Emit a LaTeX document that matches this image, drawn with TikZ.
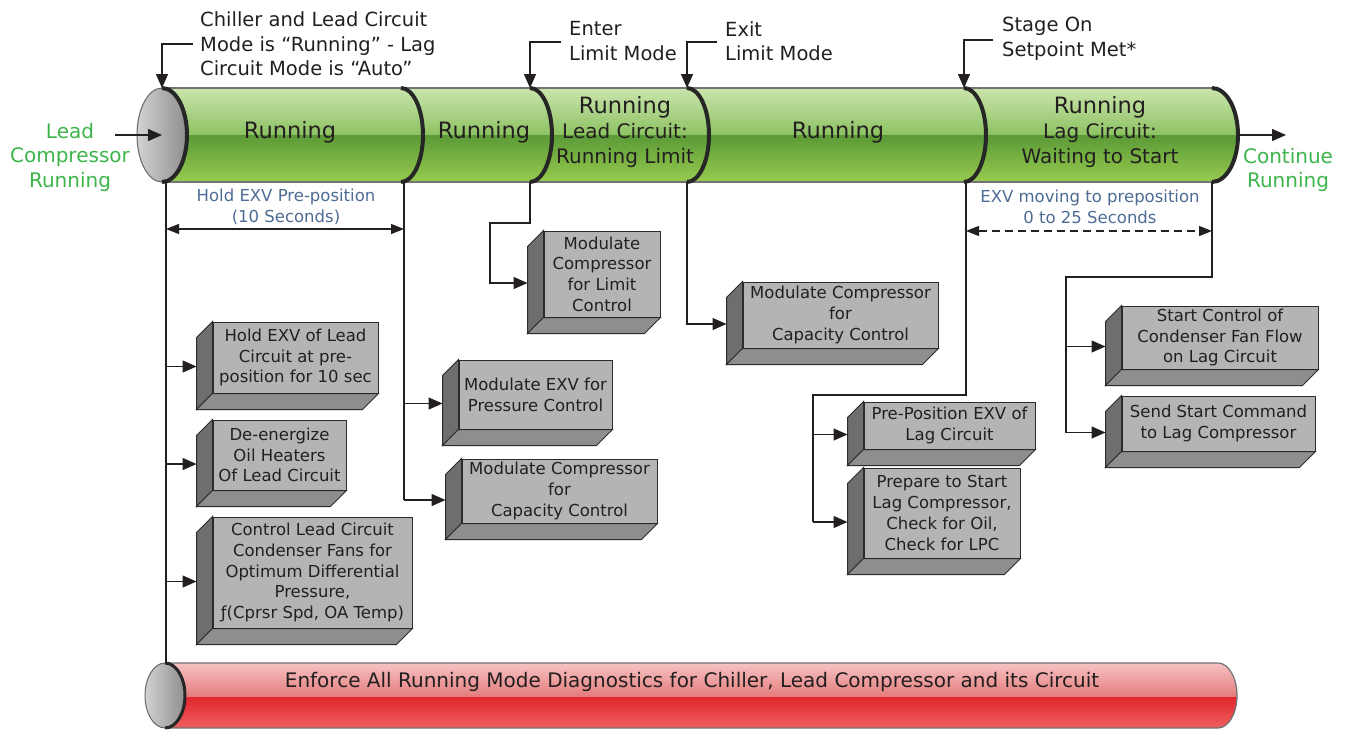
\documentclass[tikz,border=0pt]{standalone}
\usepackage{fontspec}
\setmainfont{DejaVu Sans}
\usetikzlibrary{arrows.meta,calc,positioning}
\definecolor{txtdark}{HTML}{231F20}
\definecolor{dimblue}{HTML}{4D6B93}
\definecolor{leadgreen}{HTML}{3DB54A}
\definecolor{grnA}{HTML}{CDE6B0}
\definecolor{grnB}{HTML}{8DC262}
\definecolor{grnC}{HTML}{5B9A38}
\definecolor{grnD}{HTML}{9ACD4F}
\definecolor{redA}{HTML}{F8C6C6}
\definecolor{redB}{HTML}{E47B7B}
\definecolor{redC}{HTML}{E2262D}
\definecolor{redD}{HTML}{EF6363}
\definecolor{capA}{HTML}{D2D2D2}
\definecolor{capB}{HTML}{8E8E8E}
\definecolor{boxfront}{HTML}{B4B4B4}
\definecolor{boxleft}{HTML}{6E6E6E}
\definecolor{boxbottom}{HTML}{8E8E8E}
\definecolor{boxline}{HTML}{2B2B2B}
\newcommand{\fs}[2]{\fontsize{#1}{#2}\selectfont}
\tikzset{
  link/.style={draw=txtdark,line width=1.4pt},
  arr/.style={link,-{Triangle[length=14pt,width=12pt]}},
  dimarr/.style={link,{Triangle[length=13pt,width=10pt]}-{Triangle[length=13pt,width=10pt]}},
  divider/.style={draw=black!85,line width=4pt},
  cylline/.style={draw=black!55,line width=1.2pt},
  boxnode/.style={draw=boxline,line width=1pt,fill=boxfront,align=center,inner sep=1pt,text=txtdark,font=\fs{16.5}{20.7}},
  toplabel/.style={anchor=west,inner sep=0pt,align=left,text=txtdark,font=\fs{19.5}{24.5}},
  seclabel/.style={align=center,inner sep=0pt,text=txtdark,font=\fs{22.5}{25}},
  sublabel/.style={align=center,inner sep=0pt,text=txtdark,font=\fs{20}{25}},
  sidelabel/.style={align=center,inner sep=0pt,text=leadgreen,font=\fs{20}{24.5}},
  dimlabel/.style={align=center,inner sep=0pt,text=dimblue,font=\fs{16.5}{21}}
}
\begin{document}
\begin{tikzpicture}[x=1pt,y=-1pt]
\useasboundingbox (0,0) rectangle (1346,729);
% green running cylinder
\begin{scope}
\clip (162,88) -- (1212,88) arc[start angle=-90,end angle=90,x radius=26,y radius=47] -- (162,182) -- cycle;
\shade[top color=grnA,bottom color=grnB] (150,86) rectangle (1250,135);
\shade[top color=grnC,bottom color=grnD] (150,135) rectangle (1250,184);
\end{scope}
\draw[cylline] (162,88) -- (1212,88) (162,182) -- (1212,182);
\draw[divider] (1212,88) arc[start angle=-90,end angle=90,x radius=26,y radius=47];
\foreach \x in {401,530,687,964}{\draw[divider] (\x,88) arc[start angle=-90,end angle=90,x radius=22,y radius=47];}
\draw[draw=black!60,line width=1pt,left color=capA,right color=capB] (162,135) ellipse[x radius=25,y radius=47];
\draw[divider] (162,88) arc[start angle=-90,end angle=90,x radius=25,y radius=47];
% red diagnostics cylinder
\begin{scope}
\clip (165,663) -- (1218,663) arc[start angle=-90,end angle=90,x radius=19,y radius=32.5] -- (165,728) -- cycle;
\shade[top color=redA,bottom color=redB] (150,661) rectangle (1250,697);
\shade[top color=redC,bottom color=redD] (150,697) rectangle (1250,730);
\end{scope}
\draw[cylline] (165,663) -- (1218,663) arc[start angle=-90,end angle=90,x radius=19,y radius=32.5] -- (165,728);
\draw[draw=black!60,line width=1pt,left color=capA,right color=capB] (165,695.5) ellipse[x radius=20,y radius=32.5];
\draw[divider,line width=3pt] (165,663) arc[start angle=-90,end angle=90,x radius=20,y radius=32.5];
\node[seclabel,font=\fs{20}{24}] (enforce) at (692,682) {Enforce All Running Mode Diagnostics for Chiller, Lead Compressor and its Circuit};

% section labels
\node[seclabel] (sec1) at (290,132) {Running};
\node[seclabel] (sec2) at (484,132) {Running};
\node[sublabel] (sec3) at (625,132) {{\fs{22.5}{25}Running}\\Lead Circuit:\\Running Limit};
\node[seclabel] (sec4) at (838,132) {Running};
\node[sublabel] (sec5) at (1100,132) {{\fs{22.5}{25}Running}\\Lag Circuit:\\Waiting to Start};
\node[sidelabel] (leadlbl) at (70,157) {Lead\\Compressor\\Running};
\node[sidelabel] (contlbl) at (1288,170) {Continue\\Running};

% events
\node[toplabel] (lbChiller) at (200,44) {Chiller and Lead Circuit\\Mode is “Running” - Lag\\Circuit Mode is “Auto”};
\node[toplabel] (lbEnter) at (569,41) {Enter\\Limit Mode};
\node[toplabel] (lbExit) at (725,41) {Exit\\Limit Mode};
\node[toplabel] (lbStage) at (1002,39) {Stage On\\Setpoint Met*};
\coordinate (tChiller) at (162,88);
\coordinate (tEnter) at (530,88);
\coordinate (tExit) at (687,88);
\coordinate (tStage) at (964,88);
\draw[arr] ([xshift=-7pt]lbChiller.west) -| (tChiller);
\draw[arr] ([xshift=-8pt,yshift=-1pt]lbEnter.west) -| (tEnter);
\draw[arr] ([xshift=-8pt,yshift=-1pt]lbExit.west) -| (tExit);
\draw[arr] ([xshift=-9pt,yshift=-1pt]lbStage.west) -| (tStage);
\coordinate (capIn) at (115,135);
\coordinate (capC) at (162,135);
\coordinate (endOut) at (1238,135);
\coordinate (contEnd) at (1286,135);
\draw[arr] (capIn) -- (capC);
\draw[arr] (endOut) -- (contEnd);

% actions
\node[boxnode,minimum width=165,minimum height=71] (b1) at (295.5,357.5) {Hold EXV of Lead\\Circuit at pre-\\position for 10 sec};
\node[boxnode,minimum width=133,minimum height=70] (b2) at (279.5,455) {De-energize\\Oil Heaters\\Of Lead Circuit};
\node[boxnode,minimum width=199,minimum height=111] (b3) at (312.5,572.5) {Control Lead Circuit\\Condenser Fans for\\Optimum Differential\\Pressure,\\ƒ(Cprsr Spd, OA Temp)};
\node[boxnode,minimum width=153,minimum height=69] (b4) at (535.5,394.5) {Modulate EXV for\\Pressure Control};
\node[boxnode,minimum width=195,minimum height=64] (b5) at (559.5,491) {Modulate Compressor\\for\\Capacity Control};
\node[boxnode,minimum width=116,minimum height=86] (b6) at (602,274) {Modulate\\Compressor\\for Limit\\Control};
\node[boxnode,minimum width=195,minimum height=66] (b7) at (840.5,315) {Modulate Compressor\\for\\Capacity Control};
\node[boxnode,minimum width=171,minimum height=47] (b8) at (949.5,425.5) {Pre-Position EXV of\\Lag Circuit};
\node[boxnode,minimum width=156,minimum height=90] (b9) at (942,513) {Prepare to Start\\Lag Compressor,\\Check for Oil,\\Check for LPC};
\node[boxnode,minimum width=196,minimum height=63] (b10) at (1220,337.5) {Start Control of\\Condenser Fan Flow\\on Lag Circuit};
\node[boxnode,minimum width=193,minimum height=55] (b11) at (1218.5,423.5) {Send Start Command\\to Lag Compressor};
\foreach \b in {b1,b2,b3,b4,b5,b6,b7,b8,b9,b10,b11}{
  \filldraw[fill=boxleft,draw=boxline,line width=1pt] (\b.north west) -- ++(-16,16) -- ($(\b.south west)+(-16,16)$) -- (\b.south west) -- cycle;
  \filldraw[fill=boxbottom,draw=boxline,line width=1pt] (\b.south west) -- (\b.south east) -- ++(-16,16) -- ($(\b.south west)+(-16,16)$) -- cycle;
  \coordinate (\b-in) at ($(\b.west)+(-16,9)$);
}

% connectors
\coordinate (cA) at (166,182);
\coordinate (cB) at (404,182);
\coordinate (cEnter) at (530,182);
\coordinate (cExit) at (687,182);
\coordinate (cStage) at (966,182);
\coordinate (cEnd) at (1212,182);
\coordinate (rTop) at (166,663);
\coordinate (jEnter) at (490,223);
\coordinate (jStage) at (813,395);
\coordinate (jEnd) at (1066,277);
\draw[link] (cA) -- (rTop);
\foreach \b in {b1,b2,b3}{\draw[arr] (cA |- \b-in) -- (\b-in);}
\draw[link] (cB) -- (cB |- b5-in);
\foreach \b in {b4,b5}{\draw[arr] (cB |- \b-in) -- (\b-in);}
\draw[arr] (cEnter) |- (jEnter) |- (b6-in);
\draw[arr] (cExit) |- (b7-in);
\draw[link] (cStage) |- (jStage) -- (jStage |- b9-in);
\foreach \b in {b8,b9}{\draw[arr] (jStage |- \b-in) -- (\b-in);}
\draw[link] (cEnd) |- (jEnd) -- (jEnd |- b11-in);
\foreach \b in {b10,b11}{\draw[arr] (jEnd |- \b-in) -- (\b-in);}

% timing
\node[dimlabel] (holdlbl) at (286,207) {Hold EXV Pre-position\\(10 Seconds)};
\node[dimlabel] (exvlbl) at (1090,207) {EXV moving to preposition\\0 to 25 Seconds};
\coordinate (dA) at (166,229);
\coordinate (dB) at (404,229);
\coordinate (dC) at (966,231);
\coordinate (dD) at (1212,231);
\draw[dimarr] (dA) -- (dB);
\draw[dimarr,dash pattern=on 8pt off 5pt] (dC) -- (dD);
\end{tikzpicture}
\end{document}
